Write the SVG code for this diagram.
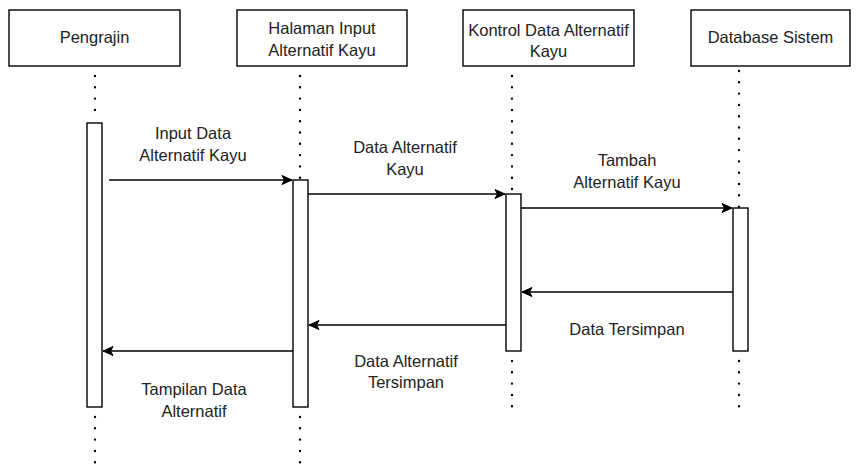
<svg xmlns="http://www.w3.org/2000/svg" width="859" height="465" viewBox="0 0 859 465">
  <style>
    .box { fill: #ffffff; stroke: #000000; stroke-width: 1.4; }
    .act { fill: #ffffff; stroke: #000000; stroke-width: 1.4; }
    .life { fill: none; stroke: #000000; stroke-width: 2.4; stroke-linecap: round; stroke-dasharray: 0 11.3; }
    .msg { fill: none; stroke: #000000; stroke-width: 1.4; marker-end: url(#arrow); }
    text { font-family: "Liberation Sans", Arial, Helvetica, sans-serif; font-size: 16.5px; fill: #222222; text-anchor: middle; }
  </style>
  <defs>
    <marker id="arrow" markerUnits="userSpaceOnUse" viewBox="-11 -6 12 12" refX="0" refY="0" markerWidth="12" markerHeight="12" orient="auto">
      <path d="M0,0 L-10,-4.5 L-7.5,0 L-10,4.5 Z" fill="#000000" stroke="#000000" stroke-width="1" stroke-linejoin="miter"/>
    </marker>
  </defs>

  <!-- dotted lifelines -->
  <g id="lifelines">
    <path class="life" d="M95,76 V121"/>
    <path class="life" d="M95,417 V465"/>
    <path class="life" d="M300,76 V178"/>
    <path class="life" d="M300,417 V465"/>
    <path class="life" d="M512,76 V190"/>
    <path class="life" d="M512,361 V408"/>
    <path class="life" d="M739,71 V207"/>
    <path class="life" d="M739,361 V408"/>
  </g>

  <!-- participants -->
  <g id="pengrajin">
    <rect class="box" x="9" y="10" width="171" height="56"/>
    <text x="94.5" y="43">Pengrajin</text>
    <rect class="act" x="87" y="123" width="15" height="284"/>
  </g>
  <g id="halaman-input">
    <rect class="box" x="237" y="10" width="170" height="56"/>
    <text x="322" y="34">Halaman Input</text>
    <text x="322" y="55.5">Alternatif Kayu</text>
    <rect class="act" x="293" y="180" width="15" height="227"/>
  </g>
  <g id="kontrol-data">
    <rect class="box" x="463" y="10" width="171" height="56"/>
    <text x="548.5" y="35.5">Kontrol Data Alternatif</text>
    <text x="548.5" y="57">Kayu</text>
    <rect class="act" x="506" y="194" width="15" height="157"/>
  </g>
  <g id="database-sistem">
    <rect class="box" x="691" y="10" width="159" height="56"/>
    <text x="770.5" y="43">Database Sistem</text>
    <rect class="act" x="733" y="208" width="15" height="143"/>
  </g>

  <!-- messages -->
  <g id="connectors">
    <path class="msg" d="M109,180 H292"/>
    <path class="msg" d="M308,194 H505"/>
    <path class="msg" d="M521,208 H732"/>
    <path class="msg" d="M733,292 H522"/>
    <path class="msg" d="M506,325 H309"/>
    <path class="msg" d="M293,351 H103"/>
  </g>

  <!-- message labels -->
  <g id="labels">
    <text x="193" y="139">Input Data</text>
    <text x="193" y="161">Alternatif Kayu</text>
    <text x="405" y="153">Data Alternatif</text>
    <text x="405" y="175">Kayu</text>
    <text x="627" y="166">Tambah</text>
    <text x="627" y="188">Alternatif Kayu</text>
    <text x="627" y="335">Data Tersimpan</text>
    <text x="406" y="367">Data Alternatif</text>
    <text x="406" y="388">Tersimpan</text>
    <text x="194" y="395">Tampilan Data</text>
    <text x="194" y="417">Alternatif</text>
  </g>
</svg>
